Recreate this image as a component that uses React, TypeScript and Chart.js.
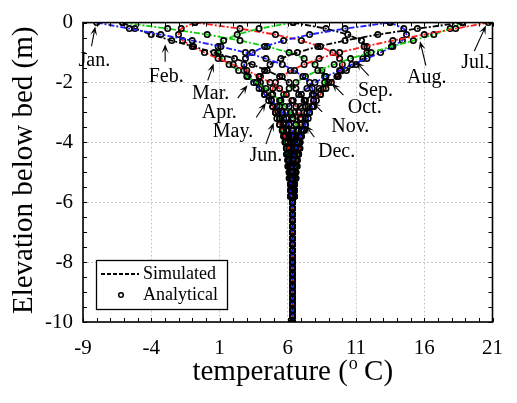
import React, { useEffect, useRef } from 'react';
import { Chart, registerables } from 'chart.js';

Chart.register(...registerables);

const FONT = '"Liberation Serif", "Times New Roman", serif';

// depth below bed (m)
const DEPTHS = [0, -0.2, -0.4, -0.6, -0.8, -1, -1.2, -1.4, -1.6, -1.8, -2, -2.2, -2.4, -2.6, -2.8, -3, -3.2, -3.4, -3.6, -3.8,
  -4, -4.2, -4.4, -4.6, -4.8, -5, -5.2, -5.4, -5.6, -5.8, -6, -6.2, -6.4, -6.6, -6.8, -7, -7.2, -7.4, -7.6, -7.8,
  -8, -8.2, -8.4, -8.6, -8.8, -9, -9.2, -9.4, -9.6, -9.8, -10];

// temperatures (deg C) from the bed down to 5.8 m
const T_JAN = [-8.0, -5.6, -3.3, -1.0, 1.1, 2.9, 4.4, 5.6, 6.5, 7.1, 7.6, 7.8, 7.9, 7.9, 7.8, 7.6, 7.5, 7.3, 7.1, 6.9, 6.7, 6.6, 6.5, 6.4, 6.3, 6.3, 6.3, 6.2, 6.2, 6.2];
const T_FEB = [-6.1, -5.2, -4.0, -2.5, -0.9, 0.6, 2.1, 3.4, 4.5, 5.4, 6.1, 6.6, 7.0, 7.2, 7.3, 7.4, 7.3, 7.3, 7.2, 7.0, 6.9, 6.8, 6.7, 6.6, 6.5, 6.4, 6.4, 6.3, 6.3, 6.3];
const T_MAR = [-0.8, -1.8, -2.0, -1.7, -1.0, -0.1, 0.9, 2.0, 3.0, 3.9, 4.7, 5.4, 5.9, 6.3, 6.6, 6.8, 7.0, 7.0, 7.0, 7.0, 6.9, 6.9, 6.8, 6.7, 6.6, 6.5, 6.5, 6.4, 6.4, 6.3];
const T_APR = [6.4, 3.9, 2.3, 1.3, 0.9, 0.9, 1.2, 1.7, 2.4, 3.0, 3.7, 4.4, 4.9, 5.4, 5.8, 6.2, 6.4, 6.6, 6.7, 6.8, 6.8, 6.8, 6.8, 6.7, 6.7, 6.6, 6.6, 6.5, 6.5, 6.4];
const T_MAY = [13.5, 10.2, 7.6, 5.7, 4.3, 3.4, 2.9, 2.8, 2.8, 3.1, 3.5, 3.9, 4.3, 4.8, 5.2, 5.6, 5.9, 6.1, 6.3, 6.4, 6.5, 6.6, 6.6, 6.6, 6.6, 6.6, 6.6, 6.5, 6.5, 6.5];
const T_JUN = [18.8, 15.5, 12.6, 10.2, 8.2, 6.7, 5.5, 4.7, 4.3, 4.0, 4.0, 4.1, 4.3, 4.6, 4.9, 5.1, 5.4, 5.7, 5.9, 6.1, 6.2, 6.4, 6.4, 6.5, 6.5, 6.5, 6.5, 6.5, 6.5, 6.5];
const T_JUL = [20.7, 18.3, 16.0, 13.7, 11.6, 9.8, 8.3, 7.2, 6.2, 5.6, 5.1, 4.9, 4.8, 4.8, 4.9, 5.1, 5.2, 5.4, 5.6, 5.8, 6.0, 6.1, 6.2, 6.3, 6.4, 6.4, 6.5, 6.5, 6.5, 6.5];
const T_AUG = [18.8, 17.9, 16.7, 15.2, 13.6, 12.1, 10.6, 9.4, 8.2, 7.3, 6.6, 6.1, 5.7, 5.5, 5.4, 5.3, 5.4, 5.4, 5.6, 5.7, 5.8, 5.9, 6.0, 6.1, 6.2, 6.3, 6.3, 6.4, 6.4, 6.4];
const T_SEP = [13.5, 14.5, 14.7, 14.4, 13.7, 12.8, 11.8, 10.7, 9.8, 8.8, 8.0, 7.4, 6.8, 6.4, 6.1, 5.9, 5.7, 5.7, 5.7, 5.7, 5.8, 5.9, 5.9, 6.0, 6.1, 6.2, 6.2, 6.3, 6.3, 6.4];
const T_OCT = [6.4, 8.8, 10.4, 11.4, 11.8, 11.8, 11.5, 11.0, 10.3, 9.7, 9.0, 8.3, 7.8, 7.3, 6.9, 6.5, 6.3, 6.1, 6.0, 5.9, 5.9, 5.9, 6.0, 6.0, 6.0, 6.1, 6.2, 6.2, 6.3, 6.3];
const T_NOV = [-0.8, 2.5, 5.1, 7.0, 8.4, 9.3, 9.8, 10.0, 9.9, 9.6, 9.2, 8.8, 8.4, 7.9, 7.5, 7.2, 6.9, 6.6, 6.4, 6.3, 6.2, 6.1, 6.1, 6.1, 6.1, 6.1, 6.1, 6.2, 6.2, 6.2];
const T_DEC = [-6.1, -2.8, 0.1, 2.5, 4.5, 6.1, 7.2, 8.0, 8.5, 8.7, 8.7, 8.6, 8.4, 8.1, 7.9, 7.6, 7.3, 7.0, 6.8, 6.6, 6.5, 6.3, 6.3, 6.2, 6.2, 6.2, 6.2, 6.2, 6.2, 6.2];
// deep part (6 m to 10 m), all months
const TRUNK_T = [6.35, 6.35, 6.35, 6.35, 6.35, 6.35, 6.35, 6.35, 6.35, 6.35, 6.35, 6.35, 6.35, 6.35, 6.35, 6.35, 6.35, 6.35, 6.35, 6.35, 6.35];

const MONTHS = ['Jan.', 'Feb.', 'Mar.', 'Apr.', 'May.', 'Jun.', 'Jul.', 'Aug.', 'Sep.', 'Oct.', 'Nov.', 'Dec.'];
const LINE_COLORS = ['#1f1fff', '#000000', '#ff1f1f', '#10d010', '#1f1fff', '#000000', '#ff1f1f', '#10d010', '#1f1fff', '#000000', '#ff1f1f', '#10d010'];

const X_TICKS = [-9, -4, 1, 6, 11, 16, 21];
const Y_TICKS = [0, -2, -4, -6, -8, -10];

// month label anchors and arrows (data units)
const LABEL_X = [-8.17, -2.91, 0.35, 0.99, 1.99, 4.4, 19.74, 16.19, 12.42, 11.64, 10.58, 9.58];
const LABEL_Y = [-1.28, -1.8, -2.36, -3.01, -3.63, -4.45, -1.34, -1.83, -2.29, -2.85, -3.47, -4.32];
const TIP_X = [-8.1, -2.98, 0.57, 3.05, 4.4, 4.97, 20.52, 15.69, 11.0, 9.23, 7.81, 7.31];
const TIP_Y = [-0.13, -0.72, -1.37, -2.09, -2.68, -3.34, -0.1, -0.62, -1.31, -2.03, -2.65, -3.43];
const TAIL_X = [-8.38, -2.98, 0.14, 2.34, 3.69, 4.4, 19.67, 16.12, 11.93, 10.08, 8.52, 7.95];
const TAIL_Y = [-0.79, -1.31, -1.93, -2.52, -3.17, -4.06, -0.95, -1.44, -1.77, -2.42, -2.98, -3.83];

function drawArrow(ctx: CanvasRenderingContext2D, x0: number, y0: number, x1: number, y1: number) {
  const ang = Math.atan2(y1 - y0, x1 - x0);
  const L = 9, W = 3.5;
  const c = Math.cos(ang), s = Math.sin(ang);
  ctx.beginPath();
  ctx.moveTo(x0, y0);
  ctx.lineTo(x1 - 5 * c, y1 - 5 * s);
  ctx.stroke();
  ctx.beginPath();
  ctx.moveTo(x1, y1);
  ctx.lineTo(x1 - L * c + W * s, y1 - L * s - W * c);
  ctx.lineTo(x1 - 0.55 * L * c, y1 - 0.55 * L * s);
  ctx.lineTo(x1 - L * c - W * s, y1 - L * s + W * c);
  ctx.closePath();
  ctx.fill();
}

const overlay = {
  id: 'overlay',
  afterDraw(chart: any) {
    const { ctx, chartArea: a, scales } = chart;
    const xs = scales.x, ys = scales.y;
    ctx.save();
    // inward minor ticks
    ctx.strokeStyle = '#000';
    ctx.lineWidth = 1;
    for (let v = -9; v <= 21; v += 1) {
      const px = Math.round(xs.getPixelForValue(v)) + 0.5;
      ctx.beginPath();
      ctx.moveTo(px, a.bottom); ctx.lineTo(px, a.bottom - 4);
      ctx.moveTo(px, a.top); ctx.lineTo(px, a.top + 4);
      ctx.stroke();
    }
    for (let v = 0; v >= -10; v -= 0.5) {
      const py = Math.round(ys.getPixelForValue(v)) + 0.5;
      ctx.beginPath();
      ctx.moveTo(a.left, py); ctx.lineTo(a.left + 4, py);
      ctx.moveTo(a.right, py); ctx.lineTo(a.right - 4, py);
      ctx.stroke();
    }
    // frame
    ctx.lineWidth = 1.6;
    ctx.strokeRect(a.left, a.top, a.right - a.left, a.bottom - a.top);

    // month labels and arrows
    ctx.fillStyle = '#000';
    ctx.lineWidth = 1.1;
    ctx.font = `20px ${FONT}`;
    ctx.textAlign = 'center';
    ctx.textBaseline = 'middle';
    for (let i = 0; i < MONTHS.length; i++) {
      ctx.fillText(MONTHS[i], xs.getPixelForValue(LABEL_X[i]), ys.getPixelForValue(LABEL_Y[i]));
      drawArrow(ctx, xs.getPixelForValue(TAIL_X[i]), ys.getPixelForValue(TAIL_Y[i]),
        xs.getPixelForValue(TIP_X[i]), ys.getPixelForValue(TIP_Y[i]));
    }

    // legend
    const lx = a.left + 13, ly = a.bottom - 62, lw = 131, lh = 49;
    ctx.fillStyle = '#fff';
    ctx.fillRect(lx, ly, lw, lh);
    ctx.strokeStyle = '#000';
    ctx.lineWidth = 1.3;
    ctx.strokeRect(lx + 0.5, ly + 0.5, lw, lh);
    ctx.setLineDash([4, 2]);
    ctx.lineWidth = 1.8;
    ctx.beginPath();
    ctx.moveTo(lx + 5, ly + 14); ctx.lineTo(lx + 43, ly + 14);
    ctx.stroke();
    ctx.setLineDash([]);
    ctx.lineWidth = 1.5;
    ctx.beginPath();
    ctx.arc(lx + 25, ly + 35, 2.3, 0, Math.PI * 2);
    ctx.stroke();
    ctx.fillStyle = '#000';
    ctx.font = `18px ${FONT}`;
    ctx.textAlign = 'left';
    ctx.fillText('Simulated', lx + 47, ly + 14);
    ctx.fillText('Analytical', lx + 47, ly + 35);

    // x axis title with superscript
    const cx = (a.left + a.right) / 2 + 5;
    const by = 380;
    ctx.textBaseline = 'alphabetic';
    ctx.font = `29px ${FONT}`;
    const p1 = 'temperature (';
    const p3 = ' C)';
    const w1 = ctx.measureText(p1).width;
    const w3 = ctx.measureText(p3).width;
    ctx.font = `18px ${FONT}`;
    const w2 = ctx.measureText('o').width;
    const sx = cx - (w1 + w2 + w3) / 2;
    ctx.font = `29px ${FONT}`;
    ctx.fillText(p1, sx, by);
    ctx.font = `18px ${FONT}`;
    ctx.fillText('o', sx + w1 + 1, by - 11);
    ctx.font = `29px ${FONT}`;
    ctx.fillText(p3, sx + w1 + w2, by);

    // y axis title
    ctx.save();
    ctx.translate(24, (a.top + a.bottom) / 2 - 2);
    ctx.rotate(-Math.PI / 2);
    ctx.textAlign = 'center';
    ctx.textBaseline = 'middle';
    ctx.font = `29px ${FONT}`;
    ctx.fillText('Elevation below bed (m)', 0, 0);
    ctx.restore();
    ctx.restore();
  },
};

export default function App() {
  const ref = useRef<HTMLCanvasElement>(null);
  useEffect(() => {
    if (!ref.current) return;
    const series = [T_JAN, T_FEB, T_MAR, T_APR, T_MAY, T_JUN, T_JUL, T_AUG, T_SEP, T_OCT, T_NOV, T_DEC];
    const datasets = series.map((arr, i) => ({
      label: MONTHS[i],
      data: arr.concat(TRUNK_T).map((t, k) => ({ x: t, y: DEPTHS[k] })),
      showLine: true,
      borderColor: LINE_COLORS[i],
      borderWidth: 1.8,
      borderDash: [6, 2, 2, 2],
      pointRadius: 2.7,
      pointBorderWidth: 1.6,
      pointBorderColor: '#000',
      pointBackgroundColor: 'rgba(0,0,0,0)',
      pointStyle: 'circle',
    }));
    const chart = new Chart(ref.current, {
      type: 'scatter',
      data: { datasets },
      options: {
        animation: false,
        responsive: false,
        layout: { padding: { top: 16, right: 11, left: 0, bottom: 0 } },
        plugins: { legend: { display: false }, tooltip: { enabled: false } },
        scales: {
          x: {
            type: 'linear',
            min: -9,
            max: 21,
            afterBuildTicks: (s: any) => { s.ticks = X_TICKS.map((v) => ({ value: v })); },
            afterFit: (s: any) => { s.height = 81; },
            grid: { color: '#c8c8c8', lineWidth: 1, drawTicks: false },
            border: { display: false, dash: [2, 2] },
            ticks: { color: '#000', font: { family: FONT, size: 21 }, padding: 14, maxRotation: 0, autoSkip: false },
          },
          y: {
            type: 'linear',
            min: -10,
            max: 0,
            afterBuildTicks: (s: any) => { s.ticks = Y_TICKS.map((v) => ({ value: v })); },
            afterFit: (s: any) => { s.width = 83; },
            grid: { color: '#c8c8c8', lineWidth: 1, drawTicks: false },
            border: { display: false, dash: [2, 2] },
            ticks: { color: '#000', font: { family: FONT, size: 21 }, padding: 10, autoSkip: false },
          },
        },
      },
      plugins: [overlay],
    });
    return () => chart.destroy();
  }, []);
  return (
    <div style={{ position: 'absolute', left: 0, top: 0, width: 517, height: 403, background: '#fff' }}>
      <canvas ref={ref} width={517} height={403} style={{ display: 'block' }} />
    </div>
  );
}
